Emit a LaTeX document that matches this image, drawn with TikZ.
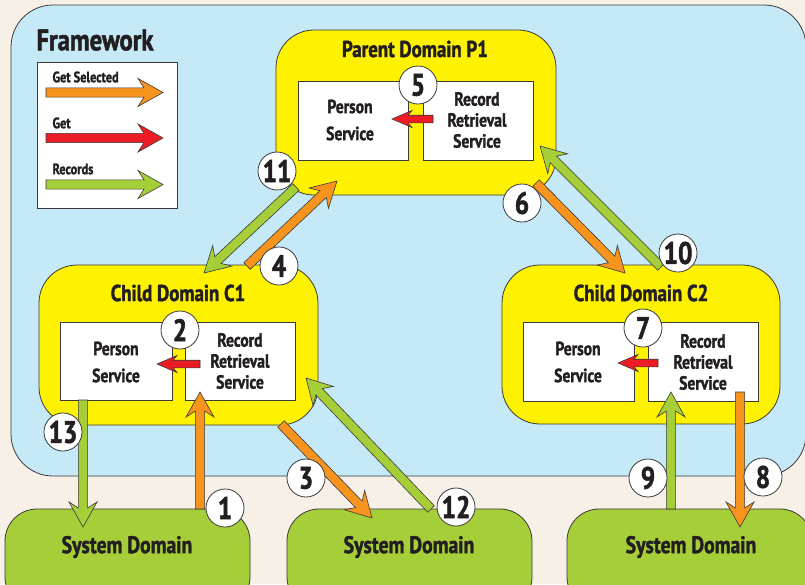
\documentclass[tikz,border=0pt]{standalone}
\usepackage{fontspec}
\setmainfont{PT Sans}[FakeStretch=0.82,BoldFeatures={FakeBold=1.6}]
\usetikzlibrary{calc}
\definecolor{cream}{HTML}{F7F0E6}
\definecolor{fwblue}{HTML}{C6E9F8}
\definecolor{dyellow}{HTML}{FFF200}
\definecolor{sgreen}{HTML}{A6CE39}
\definecolor{corange}{HTML}{F7941D}
\definecolor{cred}{HTML}{ED1C24}
\definecolor{ink}{HTML}{231F20}
\definecolor{edge}{HTML}{3A3A3A}
\newcommand\fatarr[7]{\draw[arrowline,fill=#7]
 ($(#5)!#1!90:(#6)$) -- ($(#6)!#3!(#5)!#1!90:(#6)$) -- ($(#6)!#4!(#5)!#2!90:(#6)$) -- (#6)
 -- ($(#6)!#4!(#5)!#2!-90:(#6)$) -- ($(#6)!#3!(#5)!#1!-90:(#6)$) -- ($(#5)!#1!-90:(#6)$) -- cycle;}
\newcommand\bigarrow[3]{\fatarr{4.6pt}{14pt}{19pt}{25pt}{#1}{#2}{#3}}
\newcommand\redarrow[2]{\fatarr{3.8pt}{8.5pt}{16pt}{20pt}{#1}{#2}{cred}}
\begin{document}
\begin{tikzpicture}[x=1pt,y=-1pt,
  arrowline/.style={draw=edge,line width=0.6pt,line join=miter},
  dombox/.style={draw=edge,line width=0.8pt,fill=dyellow,rounded corners=38pt},
  svc/.style={draw=edge,line width=0.8pt,fill=white},
  sysdom/.style={draw=edge,line width=0.8pt,fill=sgreen,rounded corners=32pt},
  numc/.style={circle,draw=edge,line width=0.8pt,fill=white,minimum size=38pt,inner sep=0pt,
     text=ink,font=\bfseries\fontsize{31}{31}\selectfont},
  ttl/.style={text=ink,font=\bfseries\fontsize{23}{23}\selectfont},
  svct/.style={text=ink,align=center,font=\bfseries\fontsize{19}{21}\selectfont},
  lgt/.style={text=ink,anchor=west,font=\bfseries\fontsize{15}{15}\selectfont}]
\useasboundingbox (0,0) rectangle (805,584);
\fill[cream] (0,0) rectangle (805,584);
% framework
\node[draw=edge,line width=0.8pt,fill=fwblue,rounded corners=42pt,minimum width=795pt,minimum height=471pt,inner sep=0pt] (fw) at (408.5,240.5) {};
\node[text=ink,font=\bfseries\fontsize{30}{30}\selectfont] (fwt) at (95,40) {Framework};
% legend
\node[draw=edge,line width=0.8pt,fill=white,minimum width=140pt,minimum height=146pt,inner sep=0pt] (lg) at (107,135) {};
\node[lgt] (lg1) at (49,77) {Get Selected};
\node[lgt] (lg2) at (49,123) {Get};
\node[lgt] (lg3) at (49,169) {Records};
\coordinate (l1s) at (46,92.5); \coordinate (l1e) at (163,92.5);
\coordinate (l2s) at (46,138); \coordinate (l2e) at (163,138);
\coordinate (l3s) at (46,184.5); \coordinate (l3e) at (163,184.5);
\bigarrow{l1s}{l1e}{corange}
\bigarrow{l2s}{l2e}{cred}
\bigarrow{l3s}{l3e}{sgreen}
% parent domain
\node[dombox,minimum width=280pt,minimum height=165pt] (p1) at (416,112.5) {};
\node[ttl] (p1t) at (415,49) {Parent Domain P1};
\node[svc,minimum width=110pt,minimum height=79pt] (p1p) at (353,120.5) {};
\node[svc,minimum width=110pt,minimum height=79pt] (p1r) at (478,120.5) {};
\node[svct,font=\bfseries\fontsize{19}{27}\selectfont] (p1pt) at (350,120) {Person\\Service};
\node[svct] (p1rt) at (477,120) {Record\\Retrieval\\Service};
% child C1
\node[dombox,minimum width=279pt,minimum height=160pt] (c1) at (178.5,345) {};
\node[ttl] (c1t) at (178,293) {Child Domain C1};
\node[svc,minimum width=112pt,minimum height=78pt] (c1p) at (116,361) {};
\node[svc,minimum width=110pt,minimum height=78pt] (c1r) at (240,361) {};
\node[svct,font=\bfseries\fontsize{19}{27}\selectfont] (c1pt) at (116,362) {Person\\Service};
\node[svct] (c1rt) at (240,361) {Record\\Retrieval\\Service};
% child C2
\node[dombox,minimum width=278pt,minimum height=159pt] (c2) at (641,344.5) {};
\node[ttl] (c2t) at (641,293) {Child Domain C2};
\node[svc,minimum width=111pt,minimum height=79pt] (c2p) at (578.5,361.5) {};
\node[svc,minimum width=110pt,minimum height=79pt] (c2r) at (703,361.5) {};
\node[svct,font=\bfseries\fontsize{19}{27}\selectfont] (c2pt) at (578,362) {Person\\Service};
\node[svct] (c2rt) at (703,362) {Record\\Retrieval\\Service};
% system domains
\node[sysdom,minimum width=245pt,minimum height=100pt] (sd1) at (127.5,559) {};
\node[sysdom,minimum width=245pt,minimum height=100pt] (sd2) at (409.5,559) {};
\node[sysdom,minimum width=245pt,minimum height=100pt] (sd3) at (689.5,559) {};
\node[ttl,font=\bfseries\fontsize{24}{24}\selectfont] (sd1t) at (127,547) {System Domain};
\node[ttl,font=\bfseries\fontsize{24}{24}\selectfont] (sd2t) at (409,547) {System Domain};
\node[ttl,font=\bfseries\fontsize{24}{24}\selectfont] (sd3t) at (691,547) {System Domain};
% arrow end points
\coordinate (a1s) at (200,509);  \coordinate (a1e) at (200,392);
\coordinate (a3s) at (281,424);  \coordinate (a3e) at (372,518);
\coordinate (a4s) at (247,266);  \coordinate (a4e) at (337,181);
\coordinate (a6s) at (536,183);  \coordinate (a6e) at (625,273);
\coordinate (a8s) at (740,392);  \coordinate (a8e) at (740,527);
\coordinate (a9s) at (671,509);  \coordinate (a9e) at (671,392);
\coordinate (a10s) at (661,267); \coordinate (a10e) at (540,146);
\coordinate (a11s) at (296,187); \coordinate (a11e) at (204,273);
\coordinate (a12s) at (431,509); \coordinate (a12e) at (306,378);
\coordinate (a13s) at (83,400);  \coordinate (a13e) at (83,527);
\coordinate (r5s) at (433,119);  \coordinate (r5e) at (392,119);
\coordinate (r2s) at (200,364);  \coordinate (r2e) at (157,364);
\coordinate (r7s) at (658,363);  \coordinate (r7e) at (618,363);
\bigarrow{a1s}{a1e}{corange}
\bigarrow{a3s}{a3e}{corange}
\bigarrow{a4s}{a4e}{corange}
\bigarrow{a6s}{a6e}{corange}
\bigarrow{a8s}{a8e}{corange}
\bigarrow{a9s}{a9e}{sgreen}
\bigarrow{a10s}{a10e}{sgreen}
\bigarrow{a11s}{a11e}{sgreen}
\bigarrow{a12s}{a12e}{sgreen}
\bigarrow{a13s}{a13e}{sgreen}
\redarrow{r5s}{r5e}
\redarrow{r2s}{r2e}
\redarrow{r7s}{r7e}
% number circles
\node[numc] (n1) at (225,508) {1};
\node[numc] (n2) at (180,330) {2};
\node[numc] (n3) at (306,478) {3};
\node[numc] (n4) at (279,266) {4};
\node[numc] (n5) at (418,85) {5};
\node[numc] (n6) at (522,203) {6};
\node[numc] (n7) at (643,328) {7};
\node[numc] (n8) at (763,477) {8};
\node[numc] (n9) at (648,478) {9};
\node[numc] (n10) at (678,253) {10};
\node[numc] (n11) at (277,171) {11};
\node[numc] (n12) at (456,507) {12};
\node[numc] (n13) at (63,432) {13};
\end{tikzpicture}
\end{document}
